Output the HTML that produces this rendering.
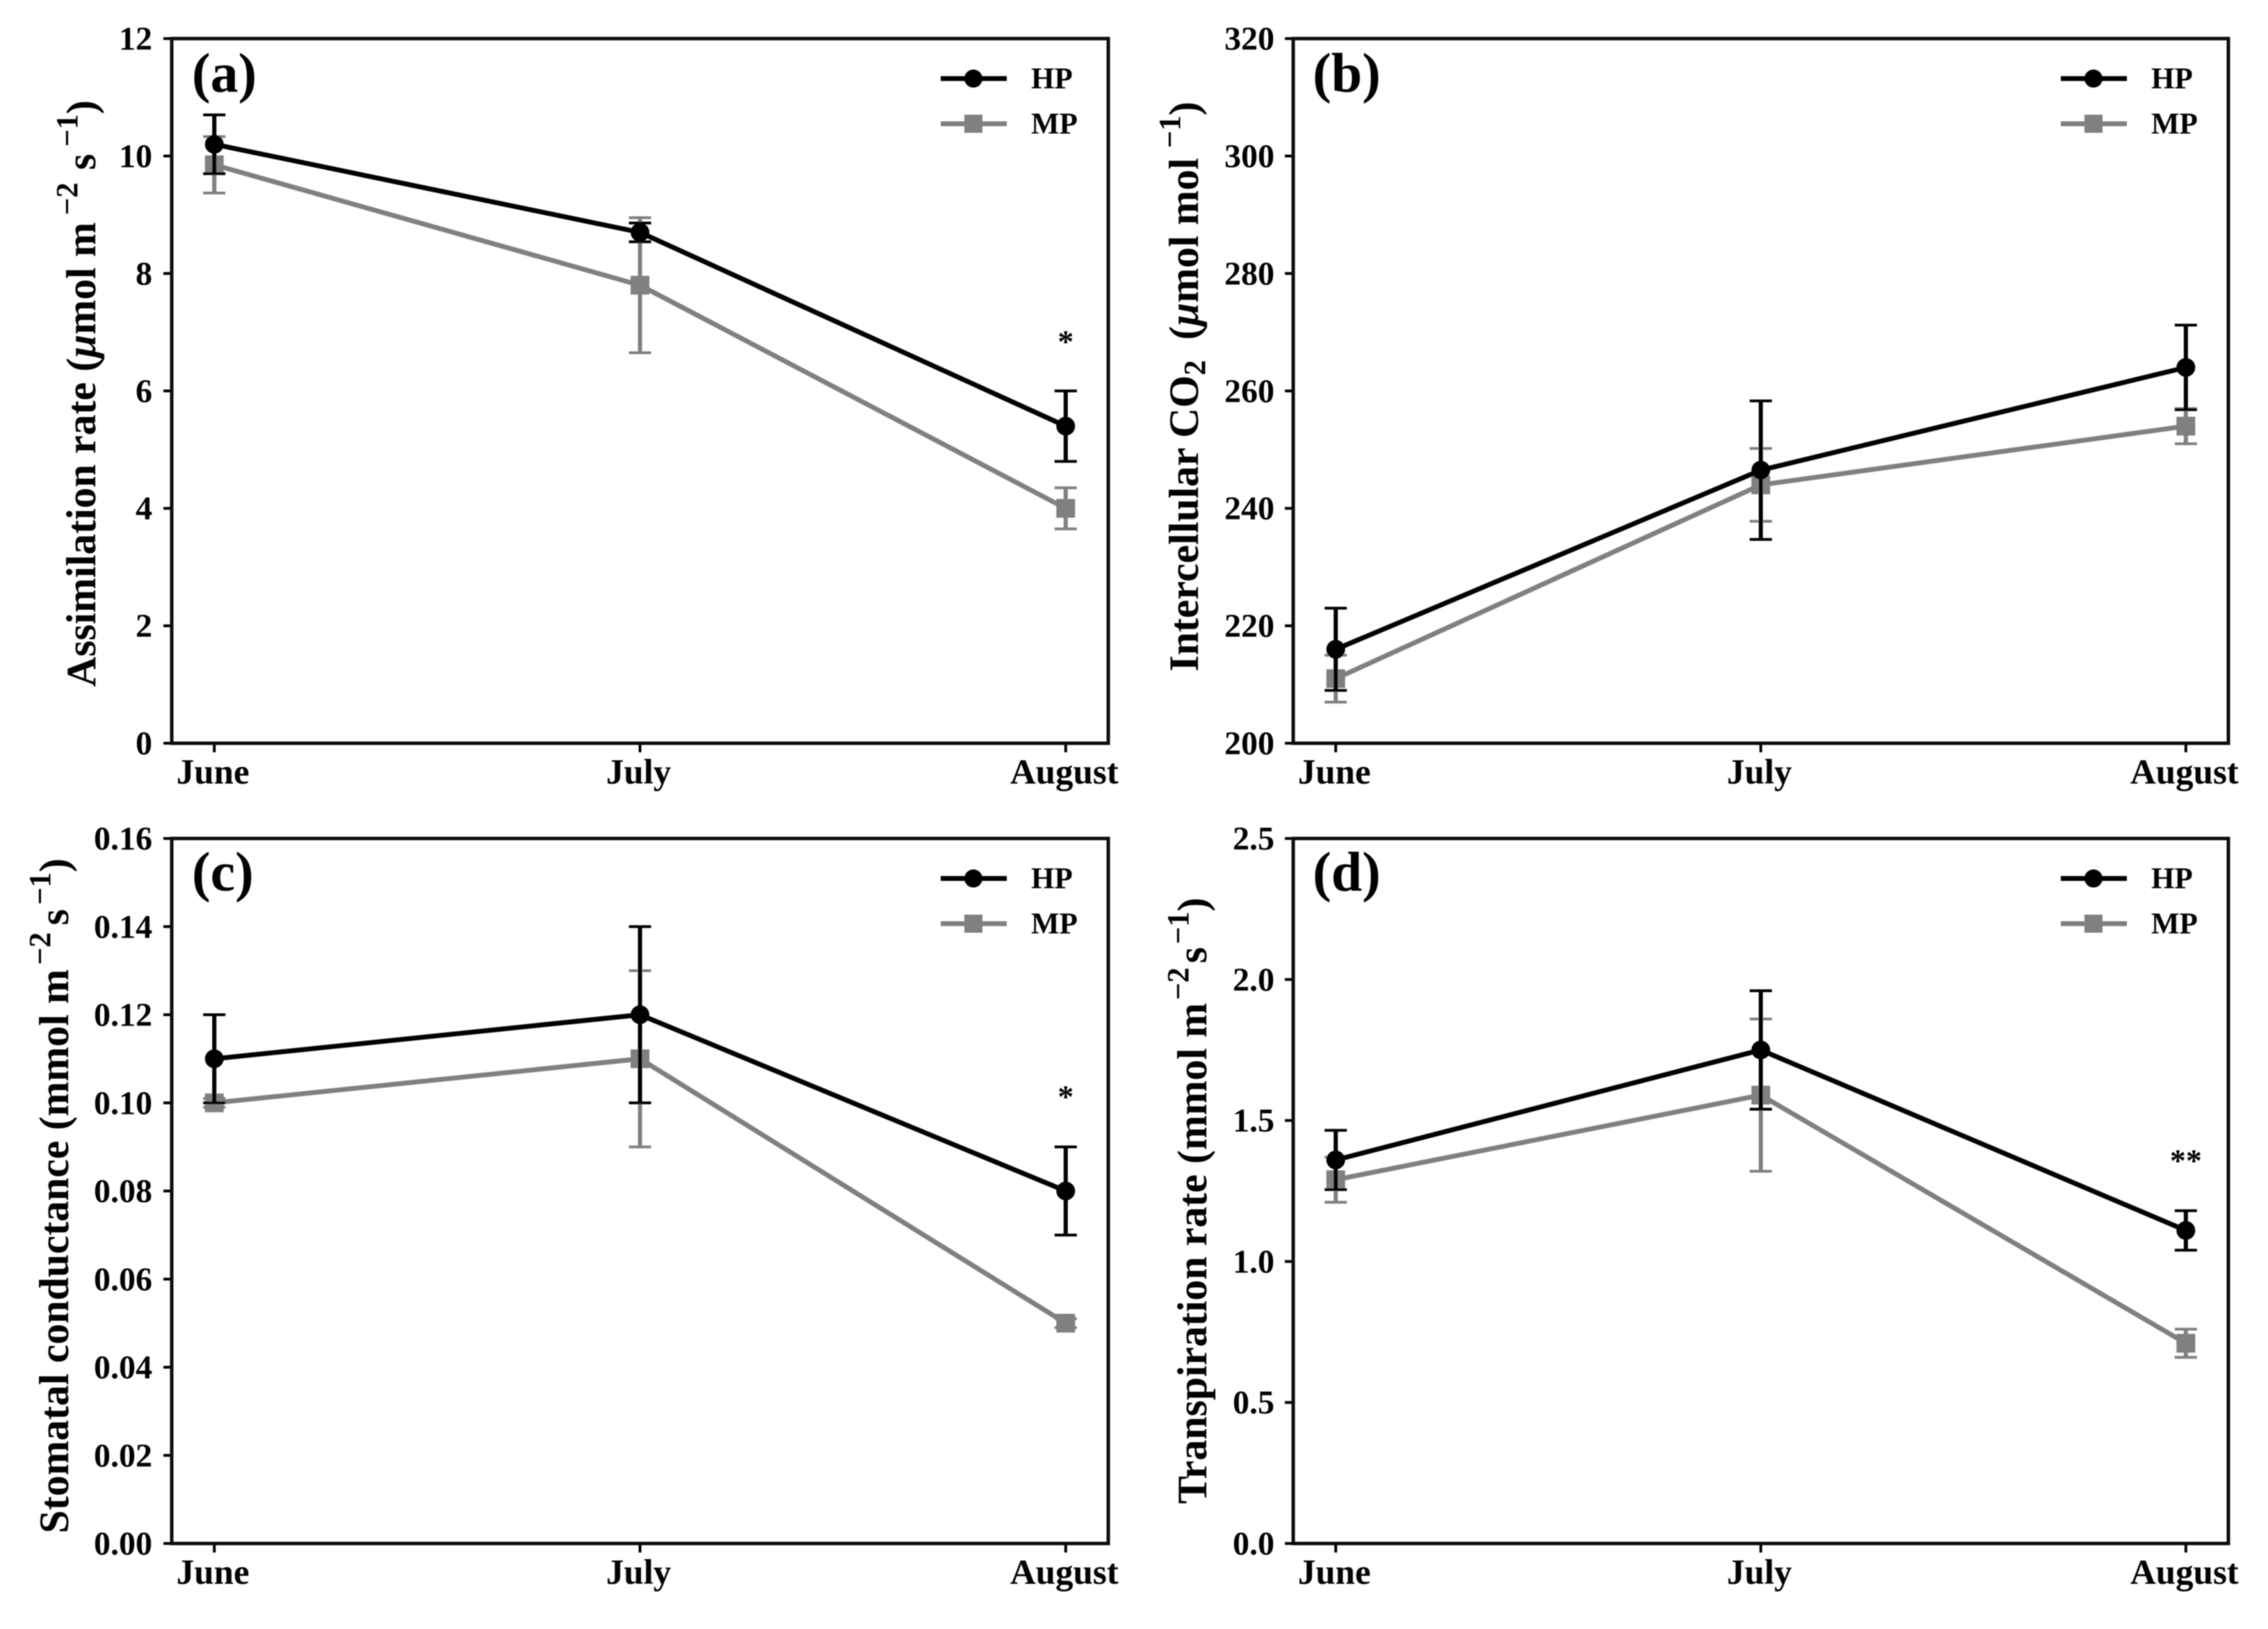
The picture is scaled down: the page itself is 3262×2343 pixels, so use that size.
<!DOCTYPE html>
<html lang="en">
<head>
<meta charset="utf-8">
<title>Gas exchange under HP and MP, June to August</title>
<style>
html,body{margin:0;padding:0;background:#fff;width:3262px;height:2343px;overflow:hidden}
svg{display:block}
text{font-family:"Liberation Serif",serif;font-weight:bold;fill:#000}
.yl{font-size:60px}
.sup{font-size:44px}
.pl{font-size:80px}
</style>
</head>
<body>
<svg id="chart" xmlns="http://www.w3.org/2000/svg" width="3262" height="2343" viewBox="0 0 3262 2343">
<defs><filter id="soft" filterUnits="userSpaceOnUse" x="0" y="0" width="3262" height="2343"><feGaussianBlur stdDeviation="0.8"/></filter></defs>
<rect width="3262" height="2343" fill="#fff"/>
<g id="root" filter="url(#soft)">
<text class="pl" x="276" y="132">(a)</text>
<text class="pl" x="1888" y="132">(b)</text>
<text class="pl" x="276" y="1281">(c)</text>
<text class="pl" x="1888" y="1281">(d)</text>
<text class="yl" transform="translate(137,566) rotate(-90)" text-anchor="middle">Assimilation rate (<tspan font-style="italic">μ</tspan>mol m<tspan class="sup" dy="-26" dx="10">−2</tspan><tspan dy="26" dx="18">s</tspan><tspan class="sup" dy="-26" dx="10">−1</tspan><tspan dy="26">)</tspan></text>
<text class="yl" transform="translate(1723,556) rotate(-90)" text-anchor="middle">Intercellular CO<tspan class="sup" dy="10">2</tspan><tspan dy="-10" dx="14"> (</tspan><tspan font-style="italic">μ</tspan>mol mol<tspan class="sup" dy="-26" dx="14">−1</tspan><tspan dy="26">)</tspan></text>
<text class="yl" transform="translate(98,1720) rotate(-90)" text-anchor="middle">Stomatal conductance (mmol m<tspan class="sup" dy="-26" dx="6">−2</tspan><tspan dy="26" dx="10">s</tspan><tspan class="sup" dy="-26" dx="6">−1</tspan><tspan dy="26">)</tspan></text>
<text class="yl" transform="translate(1735,1727) rotate(-90)" text-anchor="middle">Transpiration rate (mmol m<tspan class="sup" dy="-26" dx="4">−2</tspan><tspan dy="26" dx="6">s</tspan><tspan class="sup" dy="-26" dx="4">−1</tspan><tspan dy="26">)</tspan></text>
</g>
</svg>
<script>
const months = ['June', 'July', 'August'];
const seriesNames = ['HP', 'MP'];

const ticksA = ['0', '2', '4', '6', '8', '10', '12'];
const hpA = [10.2, 8.7, 5.4];
const hpErrA = [0.5, 0.16, 0.6];
const mpA = [9.85, 7.8, 4.0];
const mpErrA = [0.48, 1.15, 0.35];

const ticksB = ['200', '220', '240', '260', '280', '300', '320'];
const hpB = [216, 246.5, 264];
const hpErrB = [7, 11.8, 7.2];
const mpB = [211, 244, 254];
const mpErrB = [4, 6.2, 3];

const ticksC = ['0.00', '0.02', '0.04', '0.06', '0.08', '0.10', '0.12', '0.14', '0.16'];
const hpC = [0.11, 0.12, 0.08];
const hpErrC = [0.01, 0.02, 0.01];
const mpC = [0.10, 0.11, 0.05];
const mpErrC = [0.001, 0.02, 0.001];

const ticksD = ['0.0', '0.5', '1.0', '1.5', '2.0', '2.5'];
const hpD = [1.36, 1.75, 1.11];
const hpErrD = [0.105, 0.21, 0.07];
const mpD = [1.29, 1.59, 0.71];
const mpErrD = [0.08, 0.27, 0.05];

const sigA = ['', '', '*'];
const sigB = ['', '', ''];
const sigC = ['', '', '*'];
const sigD = ['', '', '**'];

const panels = [
  {id: 'a', box: [247, 55.5, 1594, 1069], ticks: ticksA, hp: hpA, hpErr: hpErrA, mp: mpA, mpErr: mpErrA, sig: sigA, sigY: 6.92, labelOff: 28},
  {id: 'b', box: [1860, 55.5, 3205, 1069], ticks: ticksB, hp: hpB, hpErr: hpErrB, mp: mpB, mpErr: mpErrB, sig: sigB, sigY: 0, labelOff: 27},
  {id: 'c', box: [247, 1206, 1594, 2220], ticks: ticksC, hp: hpC, hpErr: hpErrC, mp: mpC, mpErr: mpErrC, sig: sigC, sigY: 0.1025, labelOff: 28},
  {id: 'd', box: [1860, 1206, 3205, 2220], ticks: ticksD, hp: hpD, hpErr: hpErrD, mp: mpD, mpErr: mpErrD, sig: sigD, sigY: 1.375, labelOff: 27}
];

const NS = 'http://www.w3.org/2000/svg';
const root = document.getElementById('root');

function make(tag, attrs, parent) {
  const el = document.createElementNS(NS, tag);
  for (const k in attrs) el.setAttribute(k, attrs[k]);
  parent.appendChild(el);
  return el;
}

function xScale(box, i) {
  const w = box[2] - box[0];
  const pad = w / 22;
  return box[0] + pad + i * (w - 2 * pad) / (months.length - 1);
}

function yScale(box, ticks, v) {
  const lo = parseFloat(ticks[0]);
  const hi = parseFloat(ticks[ticks.length - 1]);
  return box[3] - (v - lo) / (hi - lo) * (box[3] - box[1]);
}

function drawSeries(g, p, name, values, errs, color) {
  const key = name.toLowerCase() + '-' + p.id;
  const pts = values.map(function (v, i) { return xScale(p.box, i) + ',' + yScale(p.box, p.ticks, v); }).join(' ');
  const line = make('polyline', {points: pts, fill: 'none', stroke: color, 'stroke-width': 7, 'stroke-linejoin': 'round'}, g);
  
  
  values.forEach(function (v, i) {
    const x = xScale(p.box, i);
    const top = yScale(p.box, p.ticks, v + errs[i]);
    const bot = yScale(p.box, p.ticks, v - errs[i]);
    const y = yScale(p.box, p.ticks, v);
    const stem = make('line', {x1: x, x2: x, y1: top, y2: bot, stroke: color, 'stroke-width': 6}, g);
    
    
    const capTop = make('line', {x1: x - 16, x2: x + 16, y1: top, y2: top, stroke: color, 'stroke-width': 4}, g);
    
    
    const capBot = make('line', {x1: x - 16, x2: x + 16, y1: bot, y2: bot, stroke: color, 'stroke-width': 4}, g);
    
    
    let m;
    if (name === 'HP') {
      m = make('circle', {cx: x, cy: y, r: 13.5, fill: color}, g);
    } else {
      m = make('rect', {x: x - 13.5, y: y - 13.5, width: 27, height: 27, fill: color}, g);
    }
    
    
  });
}

panels.forEach(function (p) {
  const b = p.box;
  const g = make('g', {}, root);
  
  

  p.ticks.forEach(function (t) {
    const y = yScale(b, p.ticks, parseFloat(t));
    const tick = make('line', {x1: b[0] - 12, x2: b[0], y1: y, y2: y, stroke: '#000', 'stroke-width': 4}, g);
    
    
    const lab = make('text', {x: b[0] - p.labelOff, y: y + 16, 'text-anchor': 'end', 'font-size': 48}, g);
    lab.textContent = t;
    
    
  });

  months.forEach(function (mName, i) {
    const x = xScale(b, i) - 2;
    const tick = make('line', {x1: x + 2, x2: x + 2, y1: b[3], y2: b[3] + 13, stroke: '#000', 'stroke-width': 4}, g);
    
    
    const lab = make('text', {x: x, y: b[3] + 58, 'text-anchor': 'middle', 'font-size': 51}, g);
    lab.textContent = mName;
    
    
  });

  drawSeries(g, p, 'MP', p.mp, p.mpErr, '#808080');
  drawSeries(g, p, 'HP', p.hp, p.hpErr, '#000');

  p.sig.forEach(function (s, i) {
    if (!s) return;
    const star = make('text', {x: xScale(b, i), y: yScale(b, p.ticks, p.sigY) + 22, 'text-anchor': 'middle', 'font-size': 46}, g);
    star.textContent = s;
    
    
  });

  const frame = make('rect', {x: b[0], y: b[1], width: b[2] - b[0], height: b[3] - b[1], fill: 'none', stroke: '#111', 'stroke-width': 5}, g);
  
  

  seriesNames.forEach(function (name, i) {
    const color = name === 'HP' ? '#000' : '#808080';
    const y = b[1] + 57.5 + i * 65;
    const cx = b[2] - 194;
    const ln = make('line', {x1: b[2] - 241, x2: b[2] - 146, y1: y, y2: y, stroke: color, 'stroke-width': 7}, g);
    
    
    let mk;
    if (name === 'HP') {
      mk = make('circle', {cx: cx, cy: y, r: 13, fill: color}, g);
    } else {
      mk = make('rect', {x: cx - 13, y: y - 13, width: 26, height: 26, fill: color}, g);
    }
    
    
    const tx = make('text', {x: b[2] - 111, y: y + 14, 'font-size': 43}, g);
    tx.textContent = name;
    
    
  });
});
</script>
</body>
</html>
